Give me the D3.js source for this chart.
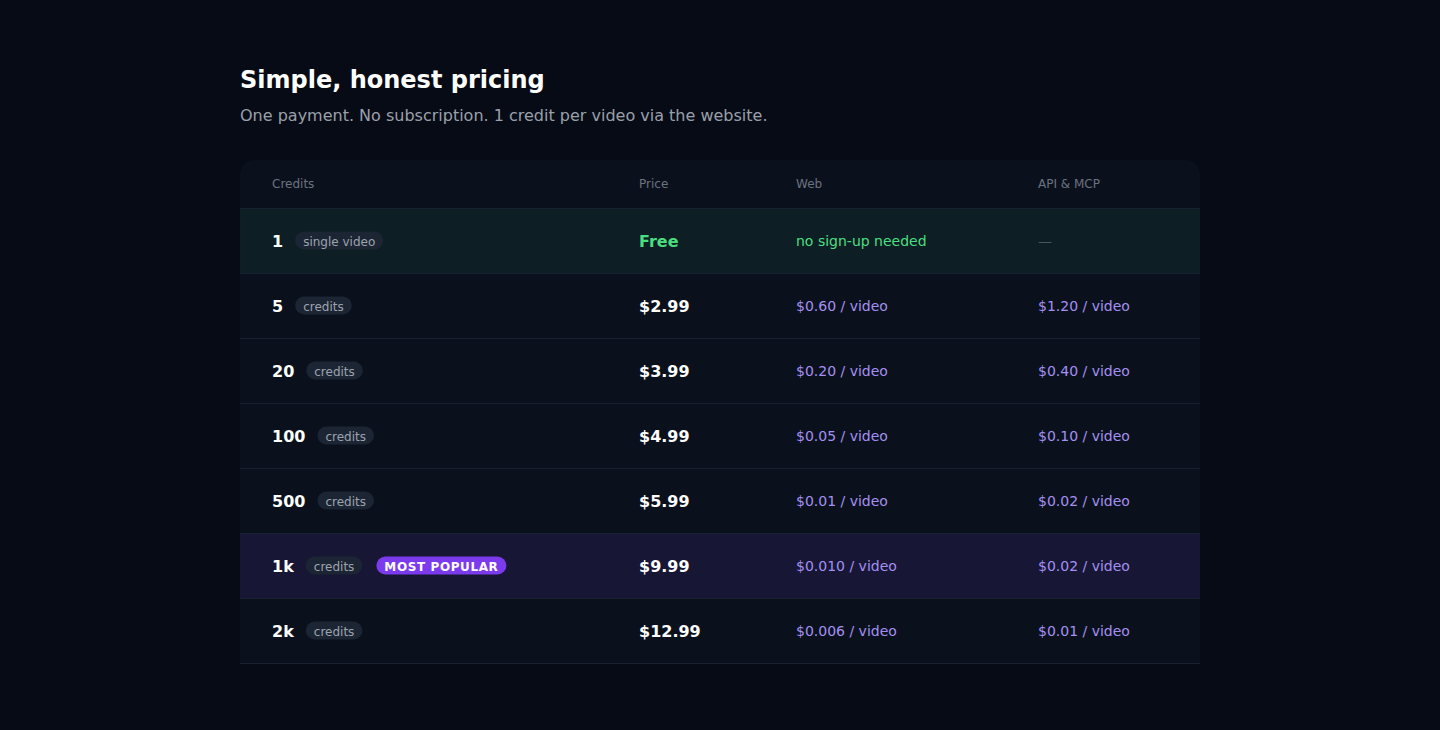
<!DOCTYPE html><html><head><meta charset="utf-8">
<script src="https://cdn.jsdelivr.net/npm/d3@7"></script>
<style>
body{margin:0;background:#070b15;font-family:"DejaVu Sans",sans-serif;width:1440px;height:730px;overflow:hidden}
</style></head><body><svg id="c" width="1440" height="730"></svg>
<script>
const credits=["1","5","20","100","500","1k","2k"];
const tags=["single video","credits","credits","credits","credits","credits","credits"];
const prices=["Free","$2.99","$3.99","$4.99","$5.99","$9.99","$12.99"];
const web=["no sign-up needed","$0.60 / video","$0.20 / video","$0.05 / video","$0.01 / video","$0.010 / video","$0.006 / video"];
const api=["—","$1.20 / video","$0.40 / video","$0.10 / video","$0.02 / video","$0.02 / video","$0.01 / video"];
const headers=["Credits","Price","Web","API & MCP"];
const colX=[272,639,796,1038];
const svg=d3.select("#c");
svg.append("text").attr("x",240).attr("y",88).attr("fill","#fff").attr("font-size",24).attr("font-weight","bold").text("Simple, honest pricing");
svg.append("text").attr("x",240).attr("y",121).attr("fill","#9aa0ab").attr("font-size",16).text("One payment. No subscription. 1 credit per video via the website.");
svg.append("rect").attr("x",240).attr("y",160).attr("width",960).attr("height",504).attr("rx",14).attr("fill","#0b111c");
headers.forEach((h,i)=>svg.append("text").attr("x",colX[i]).attr("y",188).attr("fill","#6b7280").attr("font-size",12).text(h));
const y=d3.scaleBand().domain(credits).range([208,663]);
const g=svg.selectAll("g.row").data(credits).join("g").attr("transform",d=>`translate(0,${y(d)})`);
g.append("rect").attr("x",240).attr("width",960).attr("height",y.bandwidth())
 .attr("fill",(d,i)=>i===0?"#0d1f24":i===5?"#171634":"#0b111c");
g.append("line").attr("x1",240).attr("x2",1200).attr("y1",0.5).attr("y2",0.5).attr("stroke","#182131");
const cy=y.bandwidth()/2;
g.append("text").attr("x",272).attr("y",cy+6).attr("fill","#fff").attr("font-weight","bold").attr("font-size",16).text(d=>d)
 .each(function(d,i){
   const w=this.getComputedTextLength();
   const par=d3.select(this.parentNode);
   const t=par.append("text").attr("x",272+w+20).attr("y",cy+5).attr("fill","#9ca3af").attr("font-size",12).text(tags[i]);
   const tw=t.node().getComputedTextLength();
   par.insert("rect","text:last-child").attr("x",272+w+12).attr("y",cy-9).attr("width",tw+16).attr("height",18).attr("rx",9).attr("fill","#1c2533");
   if(i===5){
     const bx=272+w+12+tw+16+14;
     const b=par.append("text").attr("x",bx+8).attr("y",cy+5).attr("fill","#fff").attr("font-size",12).attr("font-weight","bold").attr("letter-spacing",0.6).text("MOST POPULAR");
     const bw=b.node().getComputedTextLength();
     par.insert("rect","text:last-child").attr("x",bx).attr("y",cy-9).attr("width",bw+16).attr("height",18).attr("rx",9).attr("fill","#7c3aed");
   }
 });
g.append("text").attr("x",639).attr("y",cy+6).attr("font-size",16).attr("font-weight","bold").attr("fill",(d,i)=>i===0?"#4ade80":"#fff").text((d,i)=>prices[i]);
g.append("text").attr("x",796).attr("y",cy+5).attr("font-size",14).attr("fill",(d,i)=>i===0?"#4ade80":"#a390f2").text((d,i)=>web[i]);
g.append("text").attr("x",1038).attr("y",cy+5).attr("font-size",14).attr("fill",(d,i)=>i===0?"#4b5563":"#a390f2").text((d,i)=>api[i]);
svg.append("line").attr("x1",240).attr("x2",1200).attr("y1",663.5).attr("y2",663.5).attr("stroke","#182131");
</script></body></html>
